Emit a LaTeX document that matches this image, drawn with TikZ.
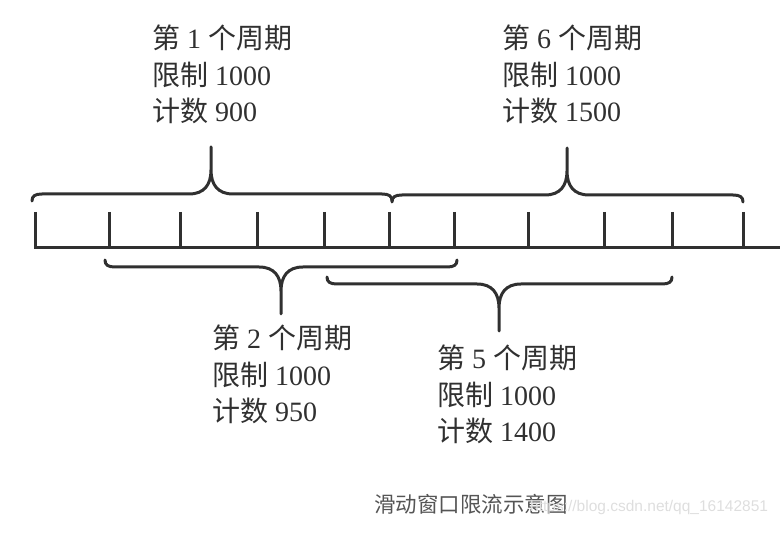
\documentclass[tikz,border=0pt]{standalone}
\usepackage{fontspec}
\setmainfont{Liberation Serif}
\newfontfamily\cjkfont{Noto Sans CJK SC}
\newfontfamily\wmfont{Liberation Sans}
\definecolor{InkColor}{RGB}{48,48,48}
\definecolor{CaptionGray}{RGB}{85,85,85}
\definecolor{MarkGray}{RGB}{222,222,222}
\usepackage{tikz}
\usetikzlibrary{positioning, calc}
\newcommand{\zh}[1]{{\cjkfont #1}}
\newcommand{\cyclebrace}[5]{%
  \draw[brace line] (#1,{#4+7*(#5)}) .. controls (#1,{#4+2*(#5)}) and ({#1+3},#4) .. ({#1+10},#4)
    -- ({#3-22},#4) .. controls ({#3-7},#4) and (#3,{#4-9*(#5)}) .. (#3,{#4-24*(#5)})
    -- (#3,{#4-47*(#5)}) -- (#3,{#4-24*(#5)})
    .. controls (#3,{#4-9*(#5)}) and ({#3+7},#4) .. ({#3+22},#4)
    -- ({#2-10},#4) .. controls ({#2-3},#4) and (#2,{#4+2*(#5)}) .. (#2,{#4+7*(#5)});}
\tikzset{
  brace line/.style={line width=3pt, draw=InkColor, line cap=round, line join=round},
  tick line/.style={line width=3pt, draw=InkColor},
  cycle text/.style={anchor=base west, inner sep=0pt, align=left, text=InkColor,
    font=\fontsize{28}{36.5}\selectfont}
}

\begin{document}
\begin{tikzpicture}[x=1pt, y=-1pt]
          \useasboundingbox (0,0) rectangle (780,534);
          \draw[tick line] (35,212) -- (35,248) -- (782,248);
          \foreach \t in {109,180,257,324,389,454,528,604,672,743}
            \draw[tick line] (\t,212) -- (\t,248);
          \cyclebrace{32}{392}{211}{194}{1}
          \cyclebrace{392}{743}{567}{195}{1}
          \cyclebrace{105}{457}{281}{267}{-1}
          \cyclebrace{327}{672}{499}{284}{-1}
          \node[cycle text] (p1) at (152,122) {\zh{第} 1 \zh{个周期}\\\zh{限制} 1000\\\zh{计数} 900};
          \node[cycle text] (p6) at (502,122) {\zh{第} 6 \zh{个周期}\\\zh{限制} 1000\\\zh{计数} 1500};
          \node[cycle text] (p2) at (212,422) {\zh{第} 2 \zh{个周期}\\\zh{限制} 1000\\\zh{计数} 950};
          \node[cycle text] (p5) at (437,442) {\zh{第} 5 \zh{个周期}\\\zh{限制} 1000\\\zh{计数} 1400};
          \node[anchor=base west, inner sep=0pt, text=CaptionGray, font=\cjkfont\fontsize{21.5}{24}\selectfont] (cap) at (374,513) {滑动窗口限流示意图};
          \node[anchor=base west, inner sep=0pt, text=MarkGray, font=\wmfont\fontsize{15.5}{18}\selectfont] (wm) at (530,512) {https://blog.csdn.net/qq\_16142851};
        \end{tikzpicture}
\end{document}
